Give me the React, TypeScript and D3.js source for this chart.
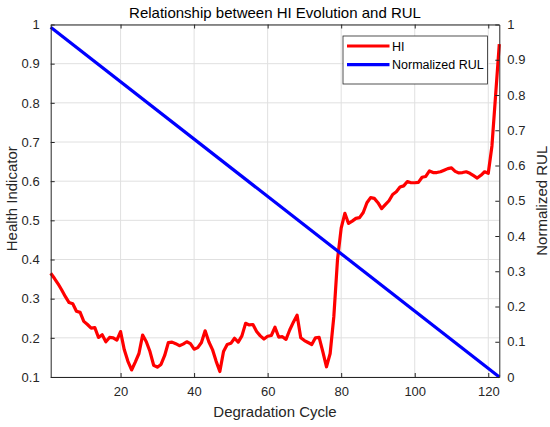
import { useEffect, useRef } from 'react';
import * as d3 from 'd3';

// HI value per degradation cycle (cycle = index + 1)
const hiValues = [
  0.365, 0.352, 0.338, 0.322, 0.305, 0.29, 0.287, 0.268, 0.265, 0.242,
  0.234, 0.225, 0.226, 0.201, 0.208, 0.19, 0.201, 0.2, 0.194, 0.216,
  0.17, 0.14, 0.118, 0.138, 0.16, 0.207, 0.19, 0.165, 0.13, 0.125,
  0.132, 0.155, 0.188, 0.189, 0.185, 0.18, 0.184, 0.19, 0.185, 0.171,
  0.175, 0.188, 0.218, 0.19, 0.17, 0.14, 0.114, 0.165, 0.183, 0.186,
  0.199, 0.189, 0.205, 0.237, 0.233, 0.234, 0.216, 0.205, 0.197, 0.204,
  0.206, 0.227, 0.202, 0.203, 0.196, 0.22, 0.24, 0.258, 0.2, 0.193,
  0.188, 0.183, 0.2, 0.201, 0.165, 0.126, 0.16, 0.254, 0.4, 0.48,
  0.518, 0.492, 0.498, 0.505, 0.507, 0.52, 0.545, 0.558, 0.556, 0.545,
  0.53, 0.54, 0.55, 0.566, 0.573, 0.585, 0.588, 0.599, 0.596, 0.596,
  0.597, 0.61, 0.612, 0.626, 0.622, 0.622, 0.624, 0.628, 0.632, 0.634,
  0.625, 0.621, 0.622, 0.624, 0.62, 0.614, 0.608, 0.615, 0.624, 0.62,
  0.69, 0.82, 0.95,
];

// Normalized RUL end points
const rulCycles = [1, 123];
const rulValues = [0.992, 0];

const xTicks = [20, 40, 60, 80, 100, 120];
const leftTicks = [0.1, 0.2, 0.3, 0.4, 0.5, 0.6, 0.7, 0.8, 0.9, 1];
const rightTicks = [0, 0.1, 0.2, 0.3, 0.4, 0.5, 0.6, 0.7, 0.8, 0.9, 1];
const legendItems = [
  { label: 'HI', color: '#ff0000' },
  { label: 'Normalized RUL', color: '#0000ff' },
];

const FONT = '"Liberation Sans", Arial, Helvetica, sans-serif';

export default function App() {
  const svgRef = useRef<SVGSVGElement>(null);

  useEffect(() => {
    if (!svgRef.current) return;
    const W = 550;
    const H = 427;
    const margin = { top: 24.5, right: 50.7, bottom: 50, left: 50.7 };
    const width = W - margin.left - margin.right;
    const height = H - margin.top - margin.bottom;

    d3.select(svgRef.current).selectAll('*').remove();
    const root = d3.select(svgRef.current)
      .attr('width', W)
      .attr('height', H)
      .style('font-family', FONT);

    root.append('rect').attr('width', W).attr('height', H).attr('fill', '#fff');

    const svg = root.append('g')
      .attr('transform', `translate(${margin.left},${margin.top})`);

    const x = d3.scaleLinear().domain([1, 123]).range([0, width]);
    const yL = d3.scaleLinear().domain([0.1, 1]).range([height, 0]);
    const yR = d3.scaleLinear().domain([0, 1]).range([height, 0]);

    // Grid
    svg.append('g')
      .selectAll('line')
      .data(xTicks)
      .join('line')
      .attr('x1', d => x(d)).attr('x2', d => x(d))
      .attr('y1', 0).attr('y2', height)
      .attr('stroke', '#e0e0e0').attr('stroke-width', 1);
    svg.append('g')
      .selectAll('line')
      .data(leftTicks)
      .join('line')
      .attr('x1', 0).attr('x2', width)
      .attr('y1', d => yL(d)).attr('y2', d => yL(d))
      .attr('stroke', '#e0e0e0').attr('stroke-width', 1);

    // Lines
    const hiLine = d3.line<number>()
      .x((_, i) => x(i + 1))
      .y(d => yL(d));
    svg.append('path')
      .datum(hiValues)
      .attr('fill', 'none')
      .attr('stroke', '#ff0000')
      .attr('stroke-width', 3.2)
      .attr('stroke-linejoin', 'round')
      .attr('d', hiLine);

    const rulLine = d3.line<number>()
      .x((_, i) => x(rulCycles[i]))
      .y(d => yR(d));
    svg.append('path')
      .datum(rulValues)
      .attr('fill', 'none')
      .attr('stroke', '#0000ff')
      .attr('stroke-width', 3.2)
      .attr('d', rulLine);

    // Axes
    const axisColor = '#262626';
    const styleAxis = (g: d3.Selection<SVGGElement, unknown, null, undefined>) => {
      g.select('.domain').attr('stroke', axisColor);
      g.selectAll('.tick line').attr('stroke', axisColor);
      g.selectAll('.tick text')
        .attr('fill', '#262626')
        .style('font-size', '13px')
        .style('font-family', FONT);
    };

    const fmt = (d: d3.NumberValue) => d3.format('~g')(d as number);

    svg.append('g')
      .attr('transform', `translate(0,${height})`)
      .call(d3.axisBottom(x).tickValues(xTicks).tickSize(-4).tickSizeOuter(0).tickPadding(10))
      .call(styleAxis);
    svg.append('g')
      .call(d3.axisTop(x).tickValues(xTicks).tickSize(-4).tickSizeOuter(0).tickFormat(() => ''))
      .call(styleAxis);
    svg.append('g')
      .call(d3.axisLeft(yL).tickValues(leftTicks).tickFormat(fmt).tickSize(-4).tickSizeOuter(0).tickPadding(11))
      .call(styleAxis);
    svg.append('g')
      .attr('transform', `translate(${width},0)`)
      .call(d3.axisRight(yR).tickValues(rightTicks).tickFormat(fmt).tickSize(-4).tickSizeOuter(0).tickPadding(8))
      .call(styleAxis);

    // Labels
    root.append('text')
      .attr('x', margin.left + width / 2)
      .attr('y', 18)
      .attr('text-anchor', 'middle')
      .style('font-size', '15px')
      .attr('fill', '#000')
      .text('Relationship between HI Evolution and RUL');

    root.append('text')
      .attr('x', margin.left + width / 2)
      .attr('y', 417)
      .attr('text-anchor', 'middle')
      .style('font-size', '15px')
      .attr('fill', '#262626')
      .text('Degradation Cycle');

    root.append('text')
      .attr('transform', `translate(17,${margin.top + height / 2 - 2}) rotate(-90)`)
      .attr('text-anchor', 'middle')
      .style('font-size', '15px')
      .attr('fill', '#262626')
      .text('Health Indicator');

    root.append('text')
      .attr('transform', `translate(547,${margin.top + height / 2}) rotate(-90)`)
      .attr('text-anchor', 'middle')
      .style('font-size', '15px')
      .attr('fill', '#262626')
      .text('Normalized RUL');

    // Legend
    const legend = root.append('g').attr('transform', 'translate(343,36)');
    legend.append('rect')
      .attr('width', 144.5)
      .attr('height', 48)
      .attr('fill', '#fff')
      .attr('stroke', '#262626')
      .attr('stroke-width', 0.8);
    legendItems.forEach((item, i) => {
      const yy = 10 + i * 18.6;
      legend.append('line')
        .attr('x1', 4).attr('x2', 46.5)
        .attr('y1', yy).attr('y2', yy)
        .attr('stroke', item.color)
        .attr('stroke-width', 3.2);
      legend.append('text')
        .attr('x', 49)
        .attr('y', yy + 4.5)
        .style('font-size', '12.5px')
        .attr('fill', '#000')
        .text(item.label);
    });
  }, []);

  return (
    <svg ref={svgRef} style={{ position: 'absolute', left: 0, top: 0 }}></svg>
  );
}
